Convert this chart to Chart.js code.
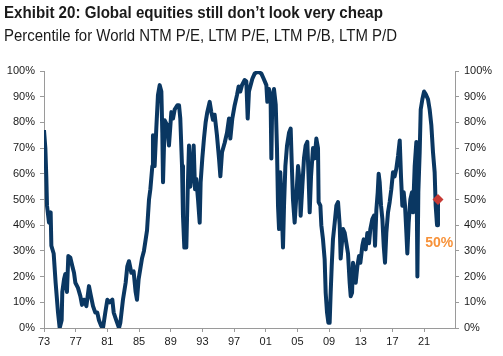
<!DOCTYPE html>
<html>
<head>
<meta charset="utf-8">
<script src="https://cdn.jsdelivr.net/npm/chart.js@4/dist/chart.umd.min.js"></script>
<style>
html,body{margin:0;padding:0;background:#fff;}
#wrap{position:relative;width:503px;height:356px;overflow:hidden;}
#c{position:absolute;left:0;top:0;}
.t{position:absolute;left:4px;white-space:nowrap;color:#1a1a1a;font-family:'Liberation Sans',Arial,sans-serif;transform-origin:0 0;}
#title{top:3px;font-size:17px;font-weight:bold;line-height:20px;}
#sub{top:25px;font-size:16.5px;line-height:20px;}
</style>
</head>
<body>
<div id="wrap">
<canvas id="c" width="503" height="356"></canvas>
<div id="title" class="t">Exhibit 20: Global equities still don’t look very cheap</div>
<div id="sub" class="t">Percentile for World NTM P/E, LTM P/E, LTM P/B, LTM P/D</div>
</div>
<script>
const years = [
1973.00,1973.17,1973.29,1973.38,1973.63,1973.84,1973.93,1974.22,1974.47,1974.77,1974.98,1975.23,1975.31,1975.53,1975.69,1975.90,
1976.07,1976.32,1976.58,1976.79,1976.96,1977.29,1977.59,1977.80,1978.05,1978.35,1978.68,1978.89,1979.19,1979.48,1979.73,1979.94,
1980.24,1980.45,1980.74,1981.00,1981.29,1981.63,1981.80,1982.13,1982.47,1982.64,1982.97,1983.31,1983.52,1983.73,1984.03,1984.32,
1984.57,1984.74,1984.95,1985.16,1985.37,1985.62,1985.84,
1986.01,1986.26,1986.43,1986.68,1986.76,1986.97,1987.18,1987.39,1987.61,1987.82,1987.94,1988.03,1988.24,1988.53,1988.78,1989.08,
1989.29,1989.50,1989.84,1990.05,1990.21,1990.43,1990.55,1990.72,1990.97,1991.14,1991.31,1991.48,1991.73,1991.90,1992.07,1992.23,
1992.45,1992.66,1992.78,1992.99,1993.20,1993.41,1993.62,1993.92,1994.13,1994.34,1994.55,1994.84,1995.10,1995.27,1995.48,1995.81,
1996.11,1996.36,1996.53,1996.78,1997.08,1997.37,1997.58,1997.79,1998.00,1998.34,1998.55,1998.72,1998.88,
1999.31,1999.60,2000.02,2000.45,2000.74,2001.08,2001.20,2001.41,2001.62,2001.71,2001.83,2002.04,2002.26,2002.42,2002.55,2002.68,
2002.84,2003.01,2003.18,2003.31,2003.48,2003.69,2003.94,2004.15,2004.28,2004.44,2004.65,2004.87,2005.08,2005.29,2005.41,2005.62,
2005.83,2006.04,2006.25,2006.42,2006.55,2006.72,2006.97,2007.18,2007.39,2007.60,2007.68,2007.90,2008.02,2008.23,2008.44,2008.57,
2008.74,2008.91,2009.07,2009.20,2009.33,2009.49,2009.71,2009.92,2010.13,2010.34,2010.46,
2010.76,2010.97,2011.18,2011.39,2011.60,2011.73,2011.90,2012.02,2012.19,2012.36,2012.57,2012.78,2012.95,2013.20,2013.37,2013.62,
2013.83,2014.04,2014.21,2014.46,2014.67,2014.80,2014.97,2015.14,2015.26,2015.39,2015.56,2015.73,2015.90,2016.06,2016.23,2016.44,
2016.65,2016.86,2017.07,2017.28,2017.49,2017.71,2017.92,2018.08,2018.25,2018.42,2018.59,2018.76,2018.88,2019.05,2019.26,2019.47,
2019.60,2019.81,2020.02,2020.15,2020.27,2020.44,2020.57,2020.78,2020.99,2021.20,2021.49,2021.70,2021.91,2022.12,2022.33,2022.46,
2022.63,2022.75
];
const percentile = [
77,70,59,47.6,41,45,32,29,17.6,6,0,3,14,19,21,14,
28,27.4,24,21.5,17.6,15.6,12.4,9,11,8.5,16.3,13,8.5,6,6,3,
0.7,0,6,11,10,11,6,3,0,2,11,17.6,24,26,21.5,22,
14,11,19,23,27,30,34.5,
38,50,54,63,75,63,77.6,90.6,94.5,92,76,56.7,80.8,79,71,84,
81.5,85,86.7,86.7,81.5,63,43.7,31.3,31.3,52.8,71,55,62,71,54,58,
50,41,56.7,66,73.7,80,84,88,84,81,83,75,66,59,68.4,72,
76,81.5,73.7,81.5,86.7,90.6,94,92,94.5,96.5,96,81.5,92,
97,99,99.7,99,97,94.5,88,93,88,66,89.5,93,87,70,47.6,38.5,
60.6,47.6,31.3,47.6,63,71,76,77.6,64.5,50,41,51.5,63,56.7,43.7,55,
66,71,72.4,58,45,59,70,66,73.7,70,49,47.6,40,34.5,26.7,13.7,
6,2,2,13.7,24,34.5,41,47.6,49,40,27,
38.5,37,33,29,17.6,12.4,13.7,25.4,21.5,17.6,24,28,25.4,32,34.5,30.6,
37,33,38.5,42.4,43.7,32,46,52.8,60,56.7,47.6,42.4,32,25.4,37,45,
49,54,60.6,59,62,67,73,59,47.6,52.8,47.6,37,29,41,50,52.8,
45,63,72.4,20,52.8,68.4,85,89,92,91,89,85,79,68.4,60.6,47.6,
40,50
];
const latestYear = [2022.75];
const latestValue = [50];
const latestLabel = ['50%'];
const labelYear = [2022.9];
const labelValue = [33];
const tickYears = [1973,1977,1981,1985,1989,1993,1997,2001,2005,2009,2013,2017,2021];
const tickLabels = ['73','77','81','85','89','93','97','01','05','09','13','17','21'];
const yTicks = [0,10,20,30,40,50,60,70,80,90,100];

// condense title text to the reference widths (Arial Narrow look)
function fitWidth(id, target){
  const el = document.getElementById(id);
  const w = el.getBoundingClientRect().width;
  if (w > 0) el.style.transform = 'scaleX(' + (target / w) + ')';
}
fitWidth('title', 379);
fitWidth('sub', 393);

const lineData = years.map((y,i)=>({x:y,y:percentile[i]}));
const pointData = latestYear.map((y,i)=>({x:y,y:latestValue[i]}));

const tickFont = {family:"'Liberation Sans', Arial, sans-serif", size:11};
const axisGrey = '#9a9a9a';

const labelPlugin = {
  id:'latestLabel',
  afterDatasetsDraw(chart){
    const ctx = chart.ctx, xs = chart.scales.x, ys = chart.scales.y;
    ctx.save();
    ctx.fillStyle = '#F7923A';
    ctx.font = "bold 14px 'Liberation Sans', Arial, sans-serif";
    ctx.textAlign = 'center';
    ctx.textBaseline = 'middle';
    latestLabel.forEach((t,i)=>ctx.fillText(t, xs.getPixelForValue(labelYear[i]), ys.getPixelForValue(labelValue[i])));
    ctx.restore();
  }
};

function yAxis(pos){
  return {
    type:'linear', position:pos, min:0, max:100,
    afterBuildTicks(s){ s.ticks = yTicks.map(v=>({value:v})); },
    afterFit(s){ s.width = pos==='left' ? 44 : 48; },
    ticks:{ callback:v=>v+'%', font:tickFont, color:'#1a1a1a', padding:5 },
    grid:{ drawOnChartArea:false, drawTicks:true, tickLength:4, color:axisGrey },
    border:{ display:true, color:axisGrey, width:1 }
  };
}

new Chart(document.getElementById('c'), {
  type:'line',
  data:{ datasets:[
    { data:lineData, borderColor:'#0A3762', borderWidth:4, pointRadius:0, tension:0, fill:false, borderJoinStyle:'round', yAxisID:'y', order:2 },
    { type:'scatter', data:pointData, pointStyle:'rectRot', pointRadius:5.5, backgroundColor:'#C73A35', borderColor:'#C73A35', borderWidth:0, yAxisID:'y', order:1 }
  ]},
  options:{
    responsive:false, animation:false, events:[],
    layout:{ padding:{ top:71, left:0, right:0, bottom:0 } },
    plugins:{ legend:{display:false}, tooltip:{enabled:false}, title:{display:false} },
    scales:{
      x:{
        type:'linear', min:1973, max:2024.9,
        afterBuildTicks(s){ s.ticks = tickYears.map(v=>({value:v})); },
        afterFit(s){ s.height = 28; },
        ticks:{ callback:(v)=>{ const i = tickYears.indexOf(v); return i>=0 ? tickLabels[i] : ''; }, font:tickFont, color:'#1a1a1a', maxRotation:0, autoSkip:false, padding:3 },
        grid:{ drawOnChartArea:false, drawTicks:true, tickLength:4, color:axisGrey },
        border:{ display:true, color:axisGrey, width:1 }
      },
      y: yAxis('left'),
      y2: yAxis('right')
    }
  },
  plugins:[labelPlugin]
});
</script>
</body>
</html>
